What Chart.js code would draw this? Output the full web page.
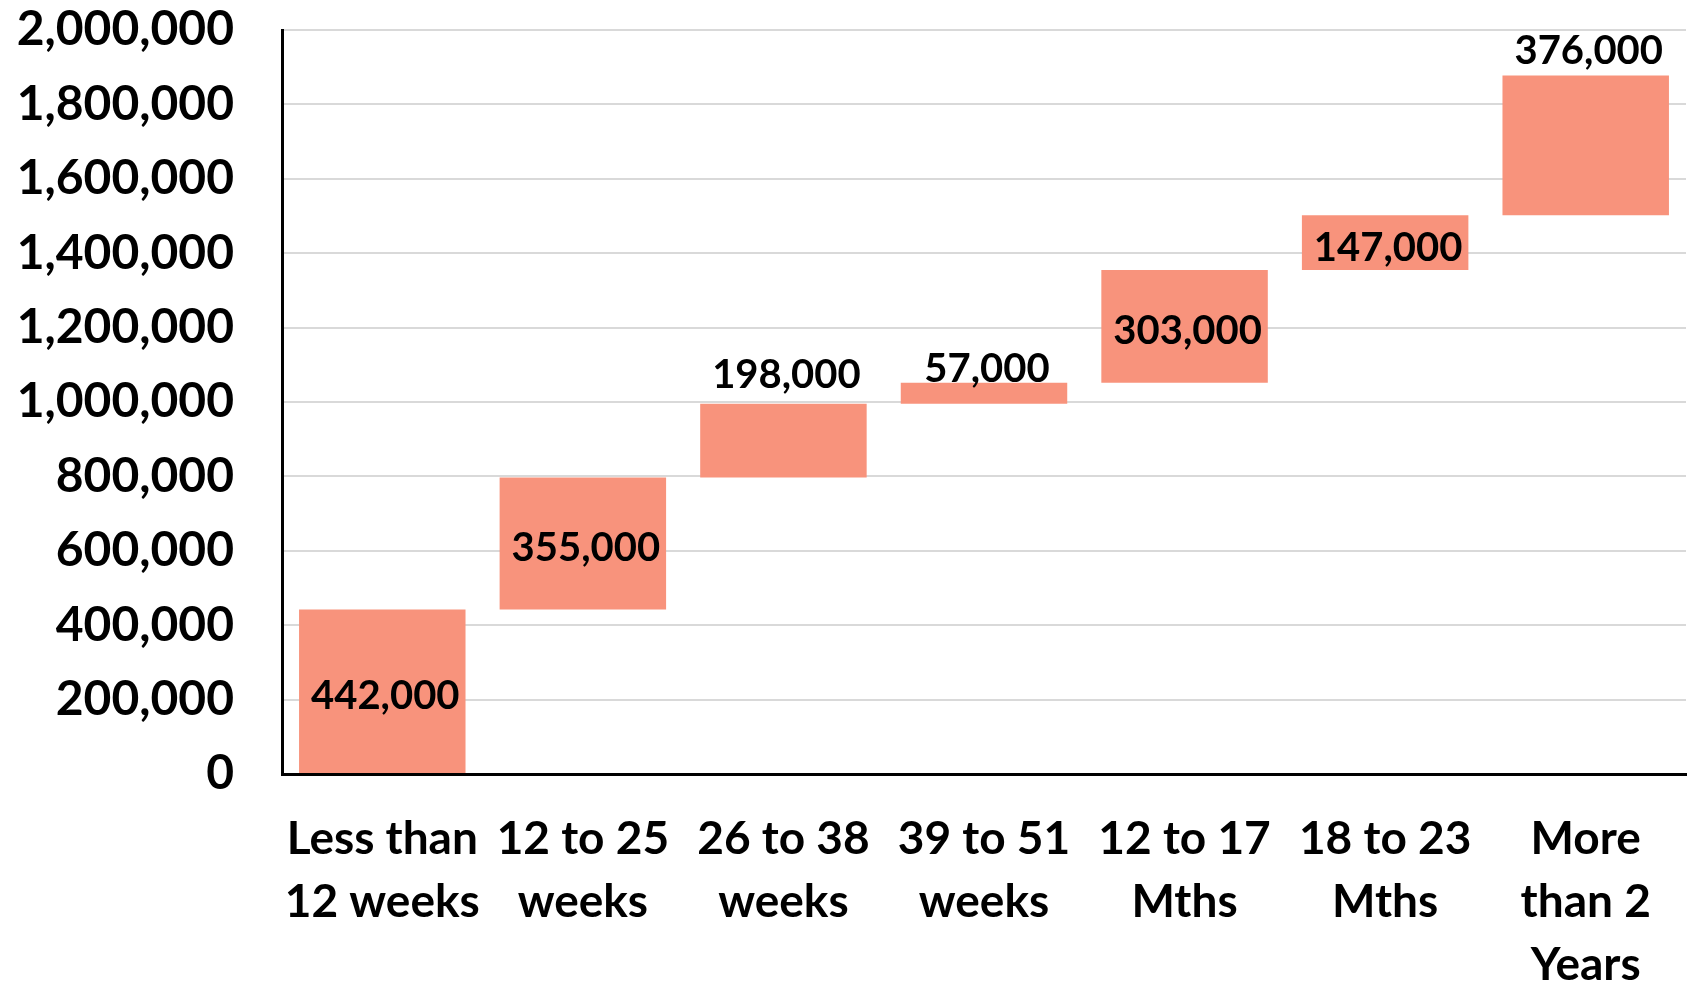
<!DOCTYPE html>
<html>
<head>
<meta charset="utf-8">
<title>Waiting times waterfall</title>
<script src="https://cdn.jsdelivr.net/npm/chart.js@4/dist/chart.umd.min.js"></script>
<style>
    html, body { margin: 0; padding: 0; background: #ffffff; }
    #wrap { width: 1692px; height: 984px; }
</style>
</head>
<body>
<div id="wrap"><canvas id="waterfallChart"></canvas></div>
<script>
// Categories (wrapped as in the original chart)
const categories = [
    ['Less than', '12 weeks'],
    ['12 to 25', 'weeks'],
    ['26 to 38', 'weeks'],
    ['39 to 51', 'weeks'],
    ['12 to 17', 'Mths'],
    ['18 to 23', 'Mths'],
    ['More', 'than 2', 'Years']
];

// Size of each step
const stepValues = [442000, 355000, 198000, 57000, 303000, 147000, 376000];

// Y axis range
const yMin = 0;
const yMax = 2000000;
const yStep = 200000;

const FONT = 'Lato, "Open Sans", sans-serif';
const BAR_COLOR = '#F8937C';

/**
 * Build floating [start, end] pairs for the waterfall
 */
function buildSteps(values) {
    let running = 0;
    return values.map(v => {
        const pair = [running, running + v];
        running += v;
        return pair;
    });
}

/**
 * Draws the value labels, either inside the bar or just above it
 */
const stepLabels = {
    id: 'stepLabels',
    afterDatasetsDraw(chart, args, opts) {
        const ctx = chart.ctx;
        const meta = chart.getDatasetMeta(0);
        ctx.save();
        ctx.font = 'bold 40px ' + FONT;
        ctx.fillStyle = '#000000';
        ctx.textAlign = 'center';
        ctx.textBaseline = 'middle';
        meta.data.forEach((bar, i) => {
            const p = bar.getProps(['x', 'y', 'base'], true);
            const top = Math.min(p.y, p.base);
            const bottom = Math.max(p.y, p.base);
            const above = opts.above[i];
            const y = above ? top - above + 2 : (top + bottom) / 2 + 5;
            ctx.fillText(stepValues[i].toLocaleString('en-US'), p.x + 3, y);
        });
        ctx.restore();
    }
};

const ctx = document.getElementById('waterfallChart');
new Chart(ctx, {
    type: 'bar',
    data: {
        labels: categories,
        datasets: [{
            data: buildSteps(stepValues),
            backgroundColor: BAR_COLOR,
            borderWidth: 0,
            barPercentage: 0.83,
            categoryPercentage: 1.0
        }]
    },
    options: {
        responsive: true,
        maintainAspectRatio: false,
        animation: false,
        layout: {
            padding: { top: 30, right: 6, left: 0, bottom: 0 }
        },
        plugins: {
            legend: { display: false },
            tooltip: { enabled: false },
            stepLabels: {
                // pixels above the bar top; 0 = centred inside
                above: [0, 0, 31, 16, 0, 0, 26]
            }
        },
        scales: {
            x: {
                grid: { display: false, drawTicks: false },
                border: { display: true, color: '#000000', width: 3 },
                ticks: {
                    autoSkip: false,
                    maxRotation: 0,
                    minRotation: 0,
                    padding: 34,
                    color: '#000000',
                    font: { family: FONT, size: 46, weight: 'bold', lineHeight: 1.37 }
                },
                afterFit(scale) {
                    scale.height = 210;
                    scale.paddingLeft = 0;
                    scale.paddingRight = 0;
                }
            },
            y: {
                min: yMin,
                max: yMax,
                grid: {
                    color: '#d9d9d9',
                    lineWidth: 2,
                    drawTicks: false
                },
                border: { display: true, color: '#000000', width: 3 },
                ticks: {
                    stepSize: yStep,
                    padding: 48,
                    color: '#000000',
                    font: { family: FONT, size: 48, weight: 'bold' },
                    callback: value => value.toLocaleString('en-US')
                },
                afterFit(scale) {
                    scale.width = 282;
                    scale.paddingTop = 0;
                    scale.paddingBottom = 0;
                }
            }
        }
    },
    plugins: [stepLabels]
});
</script>
</body>
</html>
